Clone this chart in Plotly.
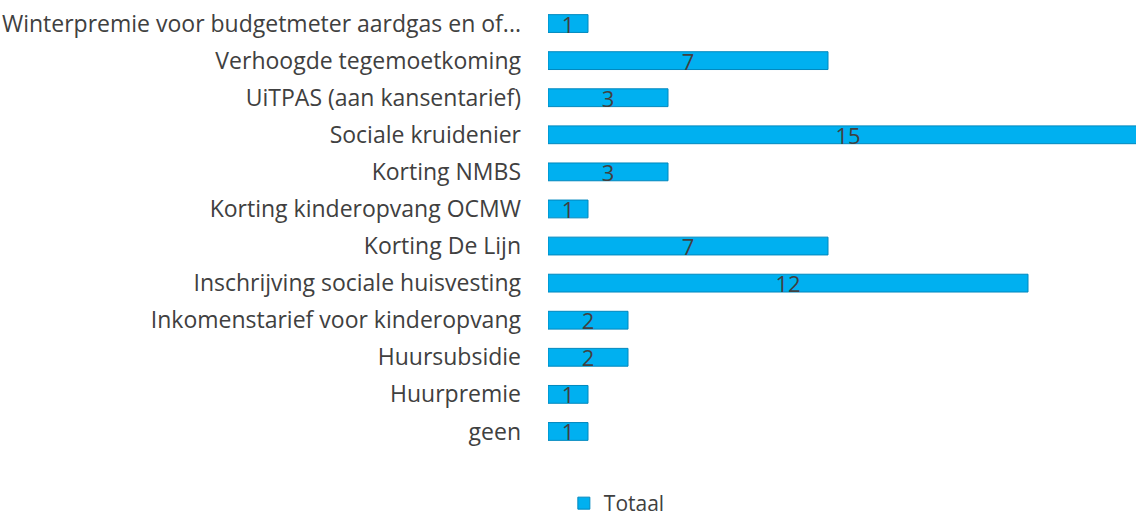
import plotly.graph_objects as go

categories = [
    "Winterpremie voor budgetmeter aardgas en of...",
    "Verhoogde tegemoetkoming",
    "UiTPAS (aan kansentarief)",
    "Sociale kruidenier",
    "Korting NMBS",
    "Korting kinderopvang OCMW",
    "Korting De Lijn",
    "Inschrijving sociale huisvesting",
    "Inkomenstarief voor kinderopvang",
    "Huursubsidie",
    "Huurpremie",
    "geen",
]
totaal = [1, 7, 3, 15, 3, 1, 7, 12, 2, 2, 1, 1]

fig = go.Figure()
fig.add_trace(go.Bar(
    y=categories,
    x=totaal,
    orientation="h",
    name="Totaal",
    marker=dict(color="#00B0F0", line=dict(color="#0088BE", width=1)),
    text=[str(v) for v in totaal],
    textposition="inside",
    insidetextanchor="middle",
    textangle=0,
    textfont=dict(family="Open Sans", size=22, color="#404040"),
    constraintext="none",
    cliponaxis=True,
))

fig.update_layout(
    width=1136,
    height=524,
    margin=dict(l=548, r=0, t=5, b=74),
    plot_bgcolor="white",
    paper_bgcolor="white",
    bargap=0.52,
    font=dict(family="Open Sans", color="#404040"),
    showlegend=True,
    legend=dict(
        orientation="h",
        xref="container", yref="container",
        x=0.543, y=0.0, xanchor="center", yanchor="bottom",
        font=dict(family="Open Sans", size=21, color="#404040"),
        itemwidth=30,
    ),
    xaxis=dict(
        range=[0, 14.7],
        showgrid=False, zeroline=False, showticklabels=False,
        showline=False, ticks="",
    ),
    yaxis=dict(
        autorange="reversed",
        showgrid=False, zeroline=False, showline=False, ticks="",
        ticklabelstandoff=26,
        tickfont=dict(family="Open Sans", size=23, color="#404040"),
    ),
)

fig.write_html(
    "out.html",
    config={"displayModeBar": False},
    post_script="document.body.style.margin='0';",
)
